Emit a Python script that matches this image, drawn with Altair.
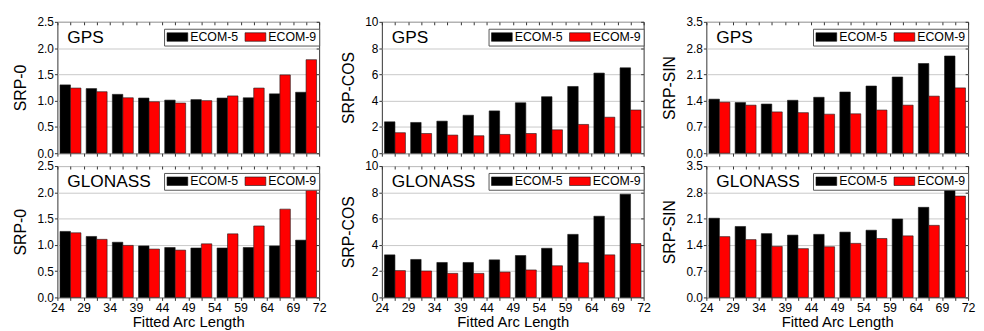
import json
import altair as alt
import pandas as pd

# ---------------- data ----------------
arc_labels = ["24", "29", "34", "39", "44", "49", "54", "59", "64", "69", "72"]
series_names = ["ECOM-5", "ECOM-9"]
series_colors = ["#000000", "#ff0000"]

gps_srp0_e5 = [1.30, 1.23, 1.12, 1.05, 1.01, 1.02, 1.05, 1.055, 1.13, 1.16]
gps_srp0_e9 = [1.24, 1.17, 1.055, 0.98, 0.955, 1.00, 1.09, 1.24, 1.49, 1.78]
glo_srp0_e5 = [1.256, 1.16, 1.05, 0.98, 0.95, 0.94, 0.94, 0.95, 0.98, 1.09]
glo_srp0_e9 = [1.23, 1.105, 0.99, 0.92, 0.90, 1.02, 1.21, 1.36, 1.68, 2.11]

gps_cos_e5 = [2.39, 2.34, 2.44, 2.89, 3.22, 3.84, 4.30, 5.08, 6.10, 6.50]
gps_cos_e9 = [1.56, 1.50, 1.38, 1.33, 1.43, 1.50, 1.78, 2.19, 2.74, 3.29]
glo_cos_e5 = [3.24, 2.89, 2.66, 2.66, 2.86, 3.19, 3.74, 4.80, 6.18, 7.86]
glo_cos_e9 = [2.04, 2.01, 1.83, 1.83, 1.93, 2.09, 2.41, 2.64, 3.24, 4.10]

gps_sin_e5 = [1.44, 1.35, 1.31, 1.41, 1.49, 1.63, 1.79, 2.03, 2.39, 2.59]
gps_sin_e9 = [1.36, 1.28, 1.10, 1.08, 1.04, 1.05, 1.15, 1.28, 1.52, 1.74]
glo_sin_e5 = [2.11, 1.89, 1.70, 1.66, 1.68, 1.74, 1.79, 2.09, 2.40, 2.87]
glo_sin_e9 = [1.62, 1.54, 1.36, 1.30, 1.35, 1.44, 1.57, 1.64, 1.92, 2.70]

srp0_ticks = [0, 0.5, 1.0, 1.5, 2.0, 2.5]
cos_ticks = [0, 2, 4, 6, 8, 10]
sin_ticks = [0, 0.7, 1.4, 2.1, 2.8, 3.5]

FONT = "Liberation Sans"
FRAME = "#333333"
W = 265
H = 133


def panel(system, metric, e5, e9, yticks, yfmt, bottom, title_x):
    n = len(e5)
    df = pd.DataFrame({
        "group": list(range(n)) * 2,
        "series": [series_names[0]] * n + [series_names[1]] * n,
        "value": e5 + e9,
    })
    base = alt.Chart(df).transform_calculate(
        x0="datum.group + (datum.series == 'ECOM-5' ? 0.1 : 0.5)",
        x1="datum.group + (datum.series == 'ECOM-5' ? 0.5 : 0.9)",
    )
    xscale = alt.Scale(domain=[0, len(arc_labels) - 1], nice=False, zero=False)
    yscale = alt.Scale(domain=[yticks[0], yticks[-1]], nice=False, zero=True)
    xvals = [i / 2 for i in range(2 * (len(arc_labels) - 1) + 1)]
    label_expr = "datum.value % 1 == 0 ? " + json.dumps(arc_labels) + "[datum.value] : ''"

    xkw = dict(values=xvals, grid=False, domain=False, tickSize=3, tickColor=FRAME,
               labelFlush=False, labelOverlap=False)
    if bottom:
        xkw.update(labelExpr=label_expr, labelFont=FONT, labelFontSize=12.5, labelColor="black",
                   labelPadding=1, title="Fitted Arc Length", titleFont=FONT, titleFontSize=15,
                   titleFontWeight="normal", titleColor="black", titleY=29,
                   titleBaseline="alphabetic")
    else:
        xkw.update(labels=False, title="")
    xaxis = alt.Axis(**xkw)

    yaxis = alt.Axis(values=yticks, format=yfmt, grid=True, gridColor="#c8c8c8", gridWidth=1,
                     domain=False, tickSize=3, tickColor=FRAME, labelFont=FONT, labelFontSize=12,
                     labelColor="black", labelPadding=1, labelFlush=False, labelOverlap=False,
                     title=metric, titleFont=FONT, titleFontSize=16, titleFontWeight="normal",
                     titleColor="black", titleX=title_x)

    legend = alt.Legend(
        orient="none", legendX=W - 5 - 152, legendY=7, direction="horizontal", title=None,
        symbolType="M-1,-0.82H3V0.82H-1Z", symbolSize=110.25, symbolStrokeColor="#111111",
        symbolStrokeWidth=0.6, symbolOpacity=1, labelFont=FONT, labelFontSize=12.5,
        labelColor="black", labelOffset=12, columnPadding=4, padding=2, strokeColor="#555555",
        fillColor="white", cornerRadius=0,
    )

    bars = base.mark_rect(stroke="#1a1a1a", strokeWidth=0.6).encode(
        x=alt.X("x0:Q", scale=xscale, axis=xaxis),
        x2="x1:Q",
        y=alt.Y("value:Q", scale=yscale, axis=yaxis),
        y2=alt.datum(0),
        color=alt.Color("series:N", scale=alt.Scale(domain=series_names, range=series_colors),
                        legend=legend),
    )

    frame_ticks = base.mark_point(opacity=0).encode(
        x=alt.X("x0:Q", scale=xscale,
                axis=alt.Axis(orient="top", offset=-3, values=xvals, tickSize=3, tickColor=FRAME,
                              labels=False, domain=False, grid=False, title="")),
        y=alt.Y("value:Q", scale=yscale,
                axis=alt.Axis(orient="right", offset=-3, values=yticks, tickSize=3,
                              tickColor=FRAME, labels=False, domain=False, grid=False, title="")),
    )

    label = alt.Chart(pd.DataFrame({"label": [system]})).mark_text(
        align="left", baseline="alphabetic", font=FONT, fontSize=17.5, color="black"
    ).encode(x=alt.value(10), y=alt.value(21.7), text="label:N")

    return alt.layer(bars, frame_ticks, label).resolve_axis(
        x="independent", y="independent"
    ).properties(width=W, height=H)


panels = [
    panel("GPS", "SRP-0", gps_srp0_e5, gps_srp0_e9, srp0_ticks, ".1f", False, -29.5),
    panel("GPS", "SRP-COS", gps_cos_e5, gps_cos_e9, cos_ticks, "d", False, -26),
    panel("GPS", "SRP-SIN", gps_sin_e5, gps_sin_e9, sin_ticks, ".1f", False, -29.5),
    panel("GLONASS", "SRP-0", glo_srp0_e5, glo_srp0_e9, srp0_ticks, ".1f", True, -29.5),
    panel("GLONASS", "SRP-COS", glo_cos_e5, glo_cos_e9, cos_ticks, "d", True, -26),
    panel("GLONASS", "SRP-SIN", glo_sin_e5, glo_sin_e9, sin_ticks, ".1f", True, -29.5),
]

chart = alt.concat(
    *panels, columns=3, spacing={"row": 13, "column": 63.5}, bounds="flush"
).resolve_legend(color="independent").properties(
    padding={"left": 4, "top": 5, "right": 0, "bottom": 0},
    background="white",
).configure_view(stroke=FRAME, strokeWidth=1)

chart.save("out.html", embed_options={"renderer": "svg", "actions": False})
